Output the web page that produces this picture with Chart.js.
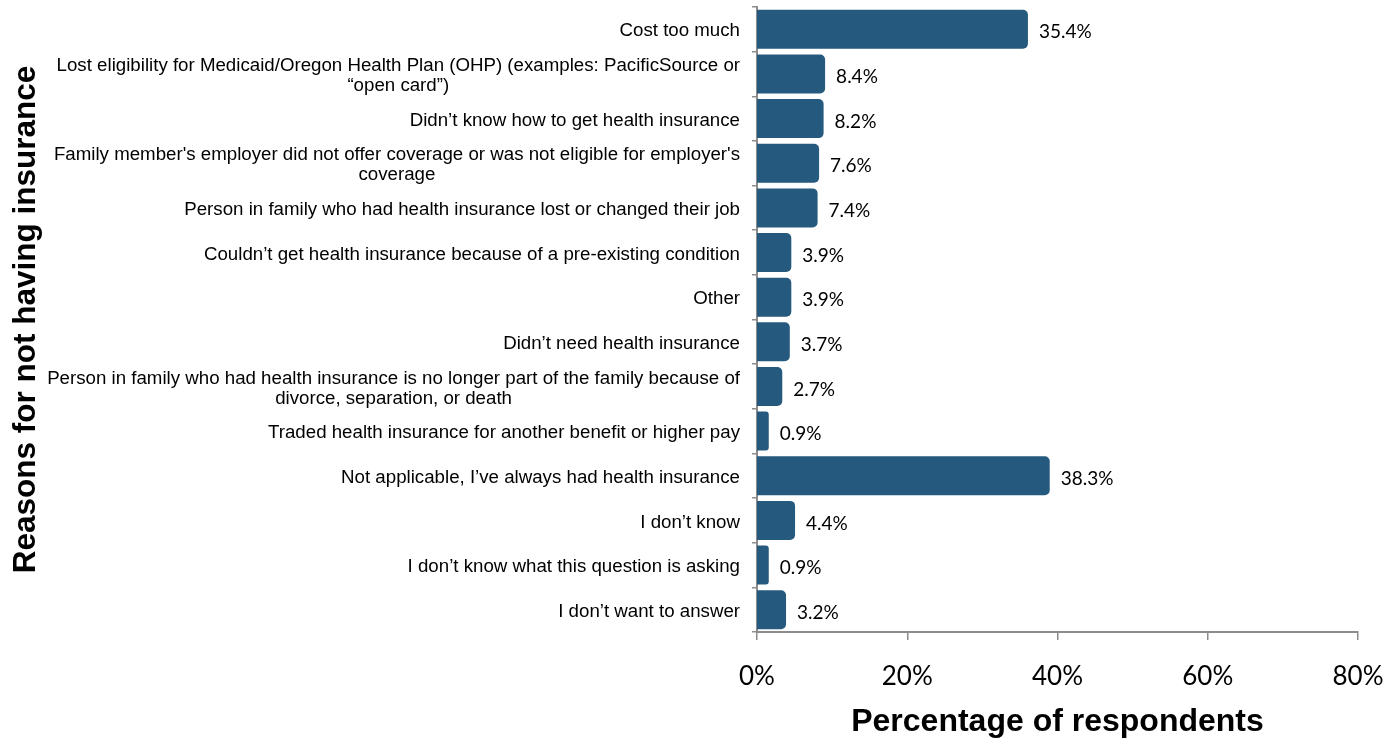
<!DOCTYPE html>
<html>
<head>
<meta charset="utf-8">
<script src="https://cdn.jsdelivr.net/npm/chart.js@4/dist/chart.umd.min.js"></script>
<style>
  html, body { margin: 0; padding: 0; background: #fff; }
  #chart { display: block; }
</style>
</head>
<body>
<canvas id="chart" width="1399" height="740"></canvas>
<script>
const reasons = [
  ["Cost too much"],
  ["Lost eligibility for Medicaid/Oregon Health Plan (OHP) (examples: PacificSource or", "\u201copen card\u201d)"],
  ["Didn\u2019t know how to get health insurance"],
  ["Family member's employer did not offer coverage or was not eligible for employer's", "coverage"],
  ["Person in family who had health insurance lost or changed their job"],
  ["Couldn\u2019t get health insurance because of a pre-existing condition"],
  ["Other"],
  ["Didn\u2019t need health insurance"],
  ["Person in family who had health insurance is no longer part of the family because of", "divorce, separation, or death"],
  ["Traded health insurance for another benefit or higher pay"],
  ["Not applicable, I\u2019ve always had health insurance"],
  ["I don\u2019t know"],
  ["I don\u2019t know what this question is asking"],
  ["I don\u2019t want to answer"],
];
const percents = [35.4, 8.4, 8.2, 7.6, 7.4, 3.9, 3.9, 3.7, 2.7, 0.9, 38.3, 4.4, 0.9, 3.2];
const xTicks = [0, 20, 40, 60, 80];

const AXIS = "#8c8c8c";
const BAR = "#255a7e";

// category labels drawn by hand: right edge fixed, wrapped lines centred on each other
const reasonLabels = {
  id: "reasonLabels",
  afterDraw(chart) {
    const ctx = chart.ctx;
    const y = chart.scales.y;
    const right = chart.chartArea.left - 17;
    ctx.save();
    ctx.font = "18.7px 'Liberation Sans', Arial, sans-serif";
    ctx.fillStyle = "#000";
    ctx.textBaseline = "middle";
    ctx.textAlign = "center";
    reasons.forEach((lines, i) => {
      const cy = y.getPixelForValue(i) + 2;
      const w = Math.max(...lines.map((l) => ctx.measureText(l).width));
      const cx = right - w / 2;
      const top = cy - (lines.length - 1) * 10;
      lines.forEach((l, k) => ctx.fillText(l, cx, top + k * 20));
    });
    ctx.restore();
  },
};

const valueLabels = {
  id: "valueLabels",
  afterDatasetsDraw(chart) {
    const ctx = chart.ctx;
    const meta = chart.getDatasetMeta(0);
    ctx.save();
    ctx.font = "19px Lato, 'Open Sans', sans-serif";
    ctx.fillStyle = "#000";
    ctx.textBaseline = "middle";
    ctx.textAlign = "left";
    meta.data.forEach((bar, i) => {
      ctx.fillText(percents[i].toFixed(1) + "%", bar.x + 16, bar.y + 3);
    });
    ctx.restore();
  },
};

new Chart(document.getElementById("chart"), {
  type: "bar",
  data: {
    labels: reasons,
    datasets: [
      {
        data: percents,
        backgroundColor: BAR,
        borderRadius: 5,
        inflateAmount: 5,
        barPercentage: 0.65,
        categoryPercentage: 1,
        clip: { left: 0, top: false, right: false, bottom: false },
      },
    ],
  },
  options: {
    indexAxis: "y",
    responsive: false,
    animation: false,
    events: [],
    layout: { padding: { top: 7, right: 41, left: 0, bottom: 0 } },
    plugins: {
      legend: { display: false },
      tooltip: { enabled: false },
    },
    scales: {
      x: {
        min: 0,
        max: 80,
        afterFit(scale) {
          scale.height = 108;
          scale.paddingLeft = 0;
          scale.paddingRight = 0;
        },
        afterBuildTicks(scale) { scale.ticks = xTicks.map((v) => ({ value: v })); },
        ticks: {
          callback: (v) => v + "%",
          font: { family: "Lato, 'Open Sans', sans-serif", size: 26 },
          color: "#000",
          padding: 21,
        },
        grid: { drawOnChartArea: false, tickLength: 8, color: AXIS, lineWidth: 1.5 },
        border: { color: AXIS, width: 2 },
        title: {
          display: true,
          text: "Percentage of respondents",
          color: "#000",
          font: { family: "'Liberation Sans', Arial, sans-serif", size: 32, weight: "bold", lineHeight: 1 },
          padding: { top: 0, bottom: 2 },
        },
      },
      y: {
        afterFit(scale) {
          scale.width = 757;
          scale.paddingTop = 0;
          scale.paddingBottom = 0;
        },
        ticks: { display: false },
        grid: { drawOnChartArea: false, tickLength: 5, color: AXIS, lineWidth: 1.5 },
        border: { color: AXIS, width: 2 },
        title: {
          display: true,
          text: "Reasons for not having insurance",
          color: "#000",
          font: { family: "'Liberation Sans', Arial, sans-serif", size: 31.5, weight: "bold" },
          padding: { top: 7, bottom: 0 },
        },
      },
    },
  },
  plugins: [reasonLabels, valueLabels],
});
</script>
</body>
</html>
